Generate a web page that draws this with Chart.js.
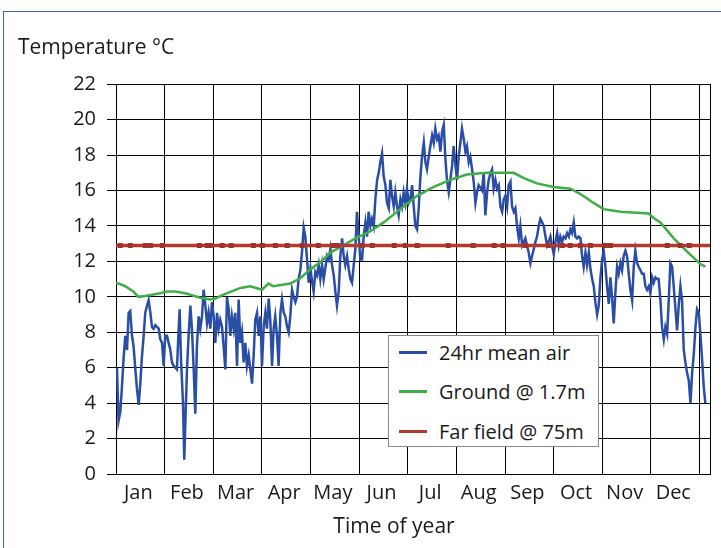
<!DOCTYPE html>
<html>
<head>
<meta charset="utf-8">
<script src="https://cdn.jsdelivr.net/npm/chart.js@4.4.1/dist/chart.umd.min.js"></script>
<style>
html,body{margin:0;padding:0;background:#fff;overflow:hidden;width:721px;height:548px;}
#frame{position:absolute;left:3px;top:11px;width:800px;height:700px;border:1.5px solid #3b67a3;box-sizing:border-box;}
#wrap{position:absolute;left:0;top:0;width:721px;height:548px;}
#legend{position:absolute;left:388px;top:335px;width:211px;height:112px;box-sizing:border-box;border:1px solid #8a8a8a;background:#fff;font-family:'Open Sans',sans-serif;font-size:20px;color:#1a1a1a;}
#legend .item{position:absolute;left:10px;height:30px;display:flex;align-items:center;white-space:nowrap;}
#legend .sw{width:28px;height:3px;margin-right:12px;}
</style>
</head>
<body>
<div id="frame"></div>
<div id="wrap"><canvas id="c" width="721" height="548"></canvas></div>
<div id="legend"></div>
<script>
// ---------- data ----------
const months = ['Jan','Feb','Mar','Apr','May','Jun','Jul','Aug','Sep','Oct','Nov','Dec'];
const monthLen = 365 / 12;   // days per month column
const dayMax = 371.5;        // axis extends slightly past December
const yMin = 0, yMax = 22, yStep = 2;
const yTitle = 'Temperature °C';
const xTitle = 'Time of year';
const seriesNames = ['24hr mean air', 'Ground @ 1.7m', 'Far field @ 75m'];

const airDays = [
 0.6,1.6,2.7,3.7,4.8,5.8,6.9,7.9,8.9,10.0,11.0,12.1,13.1,14.2,15.2,16.2,17.3,18.3,19.4,20.4,
 21.5,22.5,23.5,24.6,25.6,26.7,27.7,28.8,29.8,30.8,31.9,32.9,34.0,35.0,36.1,37.1,38.1,39.2,39.8,40.6,
 41.9,42.7,43.6,44.4,45.4,46.5,47.5,48.6,49.6,50.6,51.7,52.7,53.8,54.8,55.9,56.9,57.9,59.0,60.0,61.1,
 62.1,63.2,64.2,65.2,66.3,67.3,68.4,69.4,70.5,71.5,72.5,
 73.6,74.6,75.7,76.7,77.8,78.8,79.8,80.9,81.9,83.0,84.0,85.1,86.1,87.1,88.2,89.2,90.3,91.3,92.4,93.4,
 94.4,95.5,96.5,97.6,98.6,99.6,100.7,101.7,102.8,103.8,104.9,105.9,106.9,108.0,109.0,110.1,111.1,112.2,113.2,114.2,
 115.3,116.3,117.4,118.4,
 119.5,120.5,121.6,122.6,123.6,124.7,125.7,126.8,127.8,128.9,
 129.9,130.9,132.0,133.0,134.1,135.1,136.2,137.2,138.2,139.3,
 140.3,141.4,142.4,143.4,144.5,145.5,146.6,147.6,148.7,149.7,
 150.7,151.8,152.8,153.9,154.9,156.0,157.0,158.0,159.1,160.1,
 161.2,162.2,163.3,164.3,165.3,166.4,167.4,168.5,169.5,170.6,
 171.6,172.6,173.7,174.7,175.8,176.8,177.9,178.9,179.9,181.0,
 182.0,183.1,184.1,185.2,186.2,187.2,188.3,189.3,190.4,191.4,
 192.5,193.5,194.5,195.6,196.6,197.7,198.7,199.7,200.8,201.8,
 202.9,203.9,205.0,206.0,207.0,208.1,209.1,210.2,211.2,212.3,
 213.3,214.3,215.4,216.4,217.5,218.5,219.5,220.6,221.6,222.7,
 223.7,224.8,225.8,226.8,
 228.9,230.0,231.0,232.1,233.1,234.2,235.2,236.2,237.3,238.3,
 239.4,240.4,241.5,242.5,243.5,244.6,245.6,246.7,247.7,248.8,
 249.8,250.8,251.9,252.9,254.0,255.0,256.0,257.1,258.1,259.2,
 260.2,261.3,262.3,263.3,264.4,265.4,266.5,267.5,268.6,269.6,
 270.6,271.7,272.7,273.8,274.8,275.9,276.9,277.9,279.0,280.0,
 281.1,282.1,283.2,284.2,285.2,286.3,287.3,288.4,289.4,290.5,
 291.5,292.5,293.6,294.6,295.7,296.7,297.8,298.8,299.8,300.9,
 301.9,303.0,304.0,305.0,306.1,307.1,308.2,309.2,310.2,311.3,
 312.3,313.4,314.4,315.5,316.5,317.5,318.6,319.6,320.7,321.7,
 322.8,323.8,324.8,325.9,326.9,328.0,329.0,330.1,331.1,332.1,
 333.2,334.2,335.3,336.3,337.4,338.4,339.4,340.5,341.5,342.6,
 343.6,344.7,345.7,346.7,347.8,348.8,349.9,350.9,352.0,353.0,
 354.0,355.1,356.1,357.2,358.2,359.3,360.3,361.4,362.4,363.4,
 364.5,365.5,366.6,367.6,368.6
];
const airTemps = [
 6.0,3.0,3.5,4.9,6.6,7.8,7.0,9.1,9.2,7.8,7.2,5.9,4.8,3.9,5.1,6.6,7.8,9.1,9.5,9.8,
 9.1,8.3,8.2,8.4,8.3,8.2,7.6,7.4,6.1,7.8,7.8,7.4,7.0,6.3,6.1,6.0,5.9,8.2,9.3,6.6,
 4.0,0.8,3.6,5.9,7.8,9.5,8.2,5.9,3.4,7.2,8.9,8.2,8.9,10.4,9.5,8.5,9.1,8.2,9.7,8.9,
 7.4,9.1,8.2,8.7,8.3,7.2,5.9,10.0,9.3,7.8,8.9,
 8.2,9.1,6.1,9.85,7.4,8.0,6.3,7.4,6.1,6.7,5.9,5.1,6.7,8.7,9.1,7.8,8.9,6.1,8.4,9.1,
 8.2,9.9,8.7,6.1,8.2,8.9,7.8,6.1,9.1,9.85,9.1,8.9,8.35,8.0,8.9,10.4,10.0,9.7,10.0,11.0,
 11.5,12.5,13.9,13.4,
 12.1,10.8,11.6,10.9,10.3,11.4,11.2,11.8,11.0,11.8,
 11.0,11.6,12.3,12.1,12.7,11.8,11.2,10.3,9.5,10.3,
 12.3,13.3,12.3,11.8,12.3,11.6,11.0,10.8,11.8,12.7,
 14.8,13.4,12.1,12.1,13.4,14.2,13.4,14.8,14.0,14.4,
 14.0,15.5,16.6,17.0,17.6,18.1,16.8,16.3,15.3,15.0,
 16.6,15.7,15.1,15.9,15.1,14.6,15.5,15.1,15.9,15.3,
 16.1,15.3,15.5,16.3,15.1,14.0,13.8,15.0,16.8,17.9,
 18.7,17.6,17.2,17.9,18.5,19.1,18.7,19.5,18.9,19.1,
 18.2,19.3,19.7,17.8,16.6,15.9,16.6,17.4,18.5,17.4,
 16.6,17.9,18.7,19.5,18.9,18.2,18.5,17.6,17.9,17.2,
 16.5,15.3,15.9,16.3,
 16.0,17.0,14.6,15.9,16.6,17.0,17.2,16.1,16.6,16.1,
 16.3,15.1,14.8,15.5,15.7,15.1,16.3,16.5,15.1,14.8,
 15.0,14.0,13.3,14.0,12.9,13.1,13.3,12.9,12.5,11.9,
 12.3,12.7,13.1,13.4,14.0,14.4,14.2,14.0,13.4,12.9,
 13.1,13.4,12.9,12.4,13.1,13.6,12.9,13.4,13.1,13.4,
 13.3,13.6,13.4,13.8,13.6,14.2,13.4,13.3,13.4,13.3,
 12.3,11.7,12.5,11.8,12.5,11.6,11.0,10.6,9.7,9.0,
 9.5,11.1,12.1,12.6,11.7,10.6,9.6,11.1,10.0,8.5,
 10.2,11.7,11.3,11.9,11.5,12.3,12.6,12.3,11.3,10.4,
 9.8,11.7,12.6,11.9,11.7,11.5,11.3,11.3,10.6,10.4,
 10.6,10.2,11.1,10.8,11.1,11.0,11.0,9.8,8.3,7.6,
 8.3,7.9,9.8,11.9,11.7,10.6,9.3,8.1,9.6,10.6,
 9.8,7.0,6.3,5.7,5.3,4.0,5.7,6.8,8.3,9.3,
 9.1,7.9,6.4,4.9,4.0
];

const groundDays = [0,5.8,10.8,14.1,18.3,27.7,32.1,37.1,43.3,52.7,59.0,62.1,66.5,77.8,84.0,91.3,95.3,98.4,
 109.0,115.3,121.5,127.8,134.0,140.3,149.7,159.1,167.4,177.8,188.3,198.7,209.1,219.5,232.1,248.7,255.0,
 263.3,273.7,284.2,290.5,298.7,305.0,315.4,325.9,333.1,336.3,340.5,348.8,357.2,365.5,368.6];
const groundTemps = [10.8,10.6,10.3,10.0,10.05,10.2,10.3,10.3,10.2,9.95,9.85,9.9,10.1,10.5,10.6,10.4,10.75,10.6,
 10.75,11.05,11.55,11.95,12.5,12.8,13.3,13.7,14.2,14.95,15.7,16.2,16.6,16.9,17.0,17.0,16.7,
 16.4,16.2,16.1,15.8,15.3,14.95,14.8,14.75,14.7,14.45,14.2,13.3,12.55,11.85,11.7];

const farDays = [0,2.7,8.9,18.3,21.5,29.0,52.1,57.1,58.9,66.4,72.1,85.9,91.5,99.7,107.1,116.5,126.5,135.9,138.4,
 154.0,160.3,174.0,180.9,188.4,207.8,223.4,236.5,242.2,256.0,270.4,279.1,284.1,290.4,296.7,306.0,309.2,
 344.8,352.9,358.6,371.5];
const farTemps = [12.9,12.9,12.9,12.9,12.9,12.9,12.9,12.9,12.9,12.9,12.9,12.9,12.9,12.9,12.9,12.9,12.9,12.9,12.9,
 12.9,12.9,12.9,12.9,12.9,12.9,12.9,12.9,12.9,12.9,12.9,12.9,12.9,12.9,12.9,12.9,12.9,
 12.9,12.9,12.9,12.9];

// ---------- styles ----------
const colors = ['#2a4ea6', '#3fae47', '#b23b2f'];
const TEXT = '#1a1a1a';

function pairs(xs, ys) {
  const n = Math.min(xs.length, ys.length);
  const out = [];
  for (let i = 0; i < n; i++) out.push({x: xs[i], y: ys[i]});
  return out;
}

Chart.defaults.font.family = "'Open Sans', sans-serif";
Chart.defaults.font.size = 20;
Chart.defaults.color = TEXT;

const farLast = Math.min(farDays.length, farTemps.length) - 1;
const xTitleShift = -19;   // reference axis title sits slightly left of plot centre

new Chart(document.getElementById('c'), {
  type: 'line',
  data: {
    datasets: [
      { label: seriesNames[0], data: pairs(airDays, airTemps), borderColor: colors[0], borderWidth: 2.5,
        pointRadius: 0, tension: 0, order: 2, xAxisID: 'x', yAxisID: 'y' },
      { label: seriesNames[1], data: pairs(groundDays, groundTemps), borderColor: colors[1], borderWidth: 2.5,
        pointRadius: 0, tension: 0, order: 1, xAxisID: 'x', yAxisID: 'y' },
      { label: seriesNames[2], data: pairs(farDays, farTemps), borderColor: colors[2], borderWidth: 3.5,
        pointStyle: 'rect', backgroundColor: '#a3302a', pointBorderWidth: 0,
        pointRadius: c => (c.dataIndex === 0 || c.dataIndex === farLast) ? 0 : 3.5,
        tension: 0, order: 0, xAxisID: 'x', yAxisID: 'y' }
    ]
  },
  options: {
    responsive: false,
    animation: false,
    layout: { padding: { left: 18, right: 11, top: 0, bottom: 0 } },
    plugins: {
      legend: { display: false },
      tooltip: { enabled: false },
      title: { display: true, text: yTitle, align: 'start', color: TEXT,
               font: { size: 21, weight: 'normal' }, padding: { top: 35, bottom: 24 } }
    },
    scales: {
      x: {
        type: 'linear', position: 'bottom', min: 0, max: dayMax,
        afterBuildTicks: s => { s.ticks = months.map((m, i) => ({ value: i * monthLen })).concat([{ value: months.length * monthLen }]); },
        ticks: { display: false },
        grid: { color: '#000', lineWidth: 1, drawTicks: false },
        border: { color: '#000', width: 1 },
        afterFit: s => { s.height = 0; }
      },
      xl: {
        type: 'linear', position: 'bottom', min: 0, max: dayMax,
        afterBuildTicks: s => { s.ticks = months.map((m, i) => ({ value: (i + 0.5) * monthLen })); },
        ticks: { autoSkip: false, maxRotation: 0, padding: 7, labelOffset: -2, color: TEXT, font: { size: 20 },
                 callback: (v, i) => months[i] },
        grid: { display: false, drawTicks: false },
        border: { display: false },
        title: { display: true, text: xTitle, color: TEXT, font: { size: 21 }, padding: { top: 0, bottom: 8 } },
        afterFit: s => {
          s.height = 74;
          if (!s._shiftedTitle) {
            const orig = s.drawTitle.bind(s);
            s.drawTitle = function () {
              const ctx = this.ctx;
              ctx.save();
              ctx.translate(xTitleShift, 0);
              orig();
              ctx.restore();
            };
            s._shiftedTitle = true;
          }
        }
      },
      y: {
        type: 'linear', position: 'left', min: yMin, max: yMax,
        ticks: { stepSize: yStep, padding: 11, color: TEXT, font: { size: 20 } },
        grid: { color: '#000', lineWidth: 1, tickLength: 9, drawTicks: true },
        border: { color: '#000', width: 1 },
        afterFit: s => { s.width = 98; }
      },
      yr: {
        type: 'linear', position: 'right', min: yMin, max: yMax,
        ticks: { display: false },
        grid: { display: false, drawTicks: false },
        border: { display: true, color: '#000', width: 1 },
        afterFit: s => { s.width = 0; }
      }
    }
  }
});

// legend box (inside plot area)
const legendEl = document.getElementById('legend');
const rowCenters = [16.7, 55.7, 95];
seriesNames.forEach((name, i) => {
  const item = document.createElement('div');
  item.className = 'item';
  item.style.top = (rowCenters[i] - 15) + 'px';
  const sw = document.createElement('div');
  sw.className = 'sw';
  sw.style.background = colors[i];
  const tx = document.createElement('span');
  tx.textContent = name;
  item.appendChild(sw);
  item.appendChild(tx);
  legendEl.appendChild(item);
});
</script>
</body>
</html>
